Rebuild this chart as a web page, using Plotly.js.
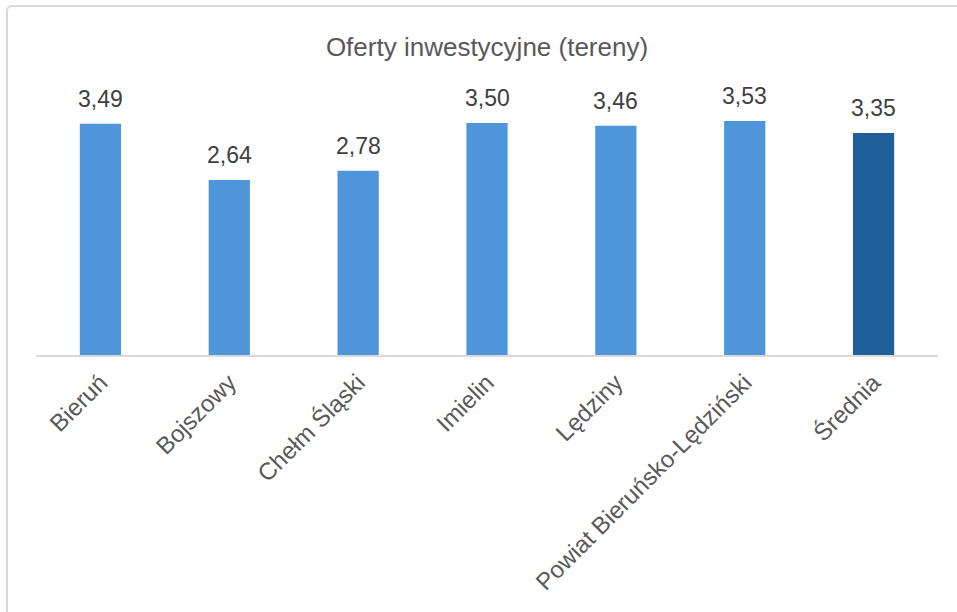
<!DOCTYPE html>
<html>
<head>
<meta charset="utf-8">
<script src="https://cdn.plot.ly/plotly-3.0.1.min.js"></script>
<style>
html,body{margin:0;padding:0;overflow:hidden;background:#fff;width:957px;height:612px;}
#frame{position:absolute;left:6px;top:5px;width:1000px;height:700px;border:2px solid #d9d9d9;border-radius:6px;box-sizing:border-box;}
#chart{position:absolute;left:0;top:0;width:957px;height:612px;}
</style>
</head>
<body>
<div id="frame"></div>
<div id="chart"></div>
<script>
var categories = ["Bieruń", "Bojszowy", "Chełm Śląski", "Imielin", "Lędziny", "Powiat Bieruńsko-Lędziński", "Średnia"];
var values = [3.49, 2.64, 2.78, 3.50, 3.46, 3.53, 3.35];
var valueLabels = ["3,49", "2,64", "2,78", "3,50", "3,46", "3,53", "3,35"];
var barColors = ["#4E95D9", "#4E95D9", "#4E95D9", "#4E95D9", "#4E95D9", "#4E95D9", "#1F5F9A"];
var chartTitle = "Oferty inwestycyjne (tereny)";

var font = "Liberation Sans, Arial, sans-serif";

var annotations = categories.map(function (c, i) {
  return {
    x: c, y: values[i], xref: "x", yref: "y",
    text: valueLabels[i], showarrow: false,
    yanchor: "bottom", yshift: 10,
    font: {family: font, size: 23, color: "#404040"}
  };
});

var trace = {
  type: "bar",
  x: categories,
  y: values,
  marker: {color: barColors},
  hoverinfo: "none"
};

var layout = {
  width: 957, height: 612,
  margin: {l: 36, r: 19, t: 80, b: 257, pad: 0},
  paper_bgcolor: "rgba(0,0,0,0)",
  plot_bgcolor: "rgba(0,0,0,0)",
  bargap: 0.68,
  showlegend: false,
  title: {
    text: chartTitle,
    font: {family: font, size: 26, color: "#595959"},
    x: 0.5, xref: "paper", xanchor: "center",
    y: 1 - 47 / 612, yref: "container", yanchor: "middle"
  },
  xaxis: {
    type: "category",
    tickangle: -45,
    tickfont: {family: font, size: 24, color: "#595959"},
    ticklabelstandoff: 2,
    showgrid: false, zeroline: false,
    showline: true, linecolor: "#d9d9d9", linewidth: 2,
    ticks: "", ticklen: 0
  },
  yaxis: {
    range: [0, 4.15],
    visible: false,
    showgrid: false, zeroline: false
  },
  annotations: annotations
};

Plotly.newPlot("chart", [trace], layout, {displayModeBar: false, staticPlot: true});
</script>
</body>
</html>
